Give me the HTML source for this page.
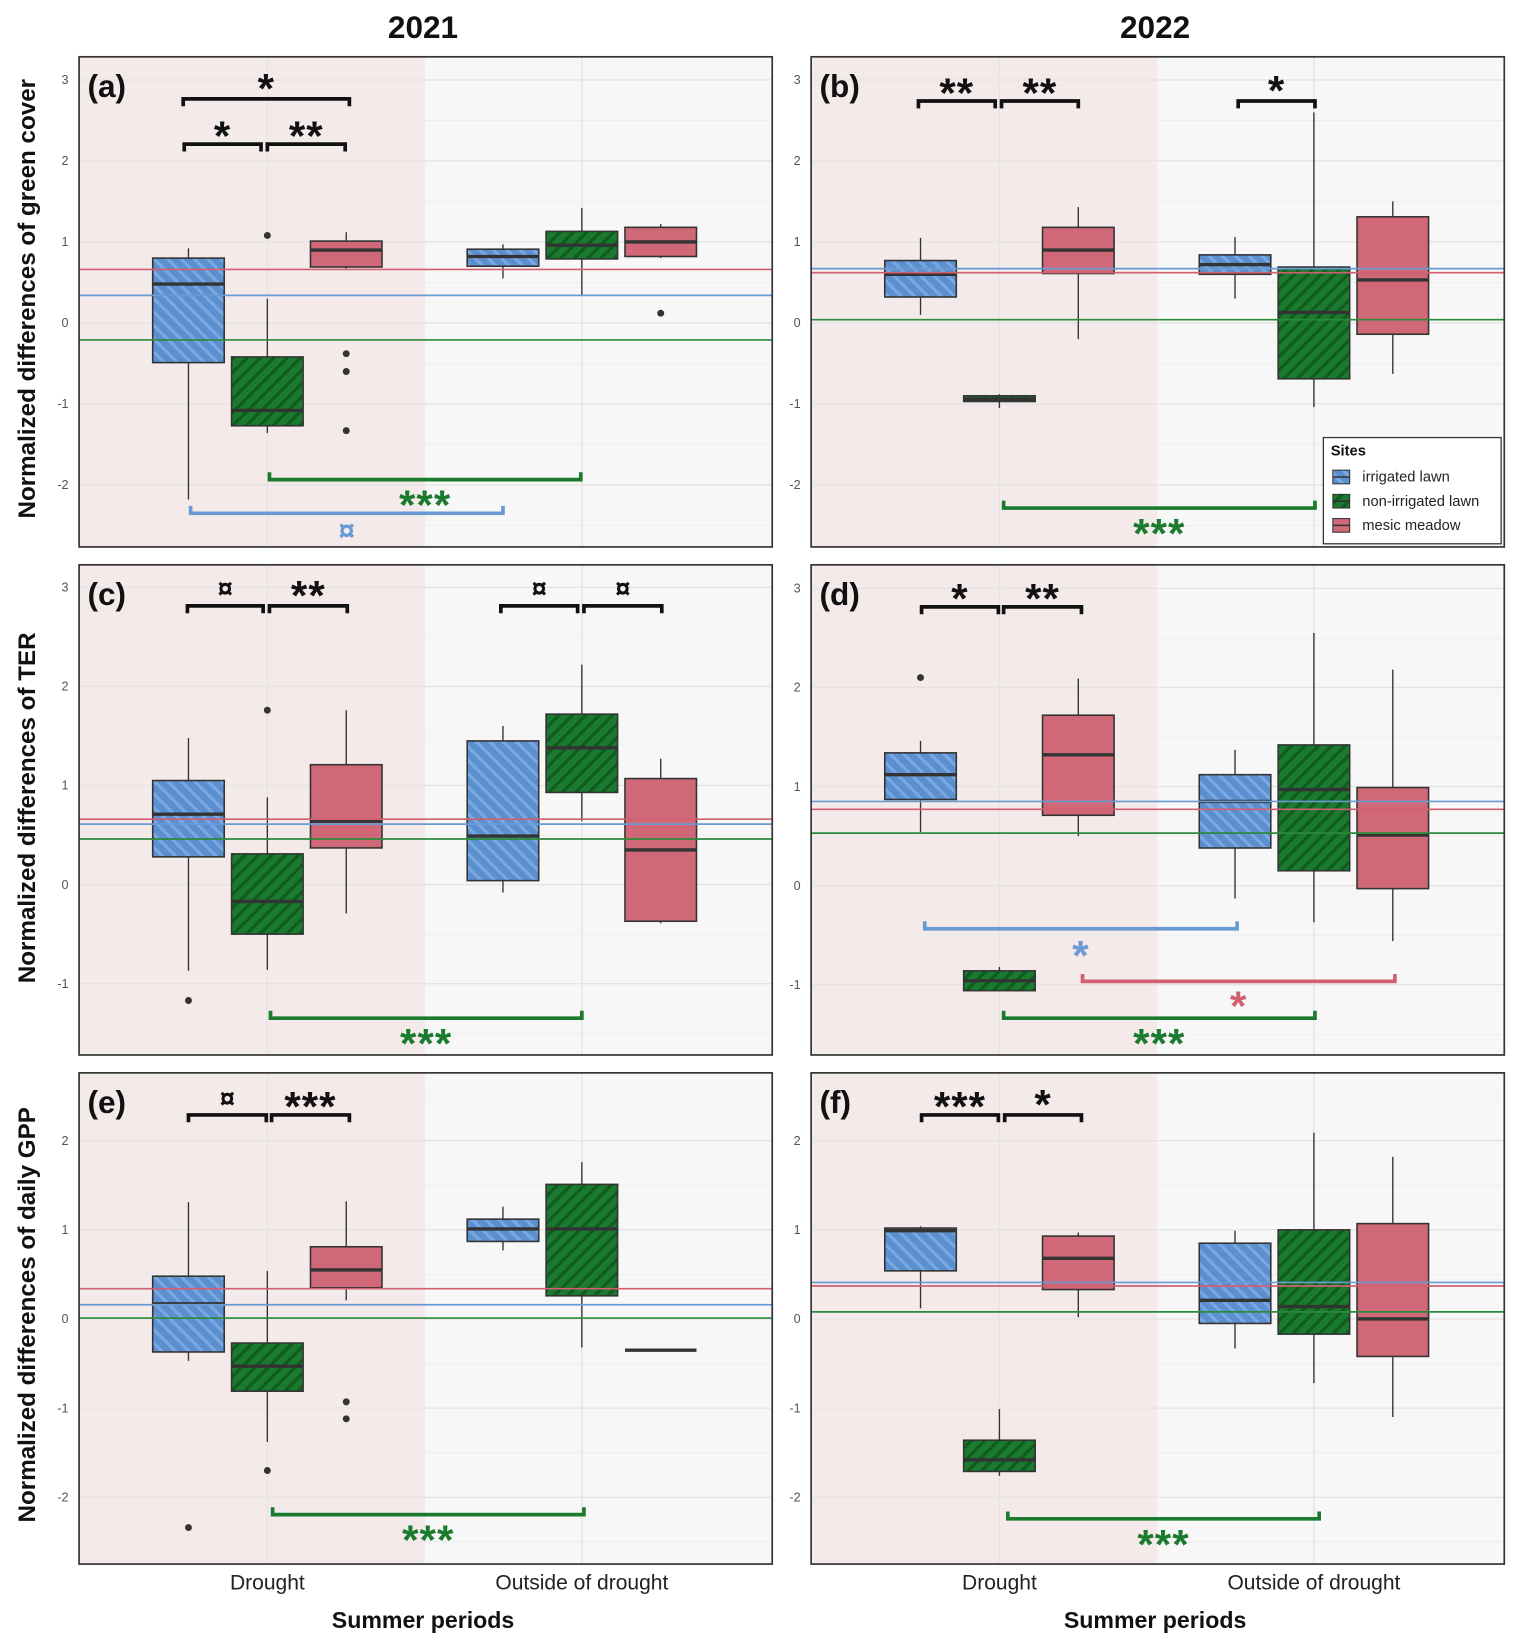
<!DOCTYPE html>
<html><head><meta charset="utf-8">
<style>
html,body{margin:0;padding:0;background:#fff;}
svg{display:block;}
text{font-family:"Liberation Sans",sans-serif;}
</style></head>
<body>
<svg id="fig" width="1515" height="1644" viewBox="0 0 1440 1563" xmlns="http://www.w3.org/2000/svg">
<defs>
<pattern id="hatchBlue" patternUnits="userSpaceOnUse" width="9" height="9" patternTransform="rotate(-45)">
<rect width="9" height="9" fill="#5b8fd0"/><rect width="3" height="9" fill="#7aa8e0"/></pattern>
<pattern id="hatchGreen" patternUnits="userSpaceOnUse" width="9" height="9" patternTransform="rotate(45)">
<rect width="9" height="9" fill="#1a7a2e"/><rect width="3" height="9" fill="#115a20"/></pattern>
</defs>
<g id="root"></g>
</svg>
<script>
// ---- data: box = [q1, median, q3, whiskerLow, whiskerHigh], order: irrigated D, non-irrigated D, mesic D, irrigated O, non-irrigated O, mesic O
const seriesNames = ["irrigated lawn","non-irrigated lawn","mesic meadow"];
const categories = ["Drought","Outside of drought"];
const boxesA = [[-0.49,0.48,0.80,-2.18,0.92],[-1.27,-1.08,-0.42,-1.36,0.30],[0.69,0.90,1.01,0.67,1.12],[0.70,0.82,0.91,0.55,0.97],[0.79,0.96,1.13,0.35,1.42],[0.82,1.00,1.18,0.80,1.22]];
const outliersA = [[1,1.08],[2,-0.38],[2,-0.60],[2,-1.33],[5,0.12]];
const meansA = [0.34,-0.21,0.66];
const boxesB = [[0.32,0.60,0.77,0.10,1.05],[-0.97,-0.94,-0.90,-1.05,-0.88],[0.61,0.90,1.18,-0.20,1.43],[0.60,0.72,0.84,0.30,1.06],[-0.69,0.13,0.69,-1.04,2.60],[-0.14,0.53,1.31,-0.63,1.50]];
const outliersB = [];
const meansB = [0.67,0.04,0.62];
const boxesC = [[0.28,0.71,1.05,-0.87,1.48],[-0.50,-0.17,0.31,-0.86,0.88],[0.37,0.64,1.21,-0.29,1.76],[0.04,0.49,1.45,-0.08,1.60],[0.93,1.38,1.72,0.64,2.22],[-0.37,0.35,1.07,-0.39,1.27]];
const outliersC = [[0,-1.17],[1,1.76]];
const meansC = [0.61,0.46,0.66];
const boxesD = [[0.87,1.12,1.34,0.54,1.46],[-1.06,-0.96,-0.86,-1.06,-0.82],[0.71,1.32,1.72,0.50,2.09],[0.38,0.85,1.12,-0.13,1.37],[0.15,0.97,1.42,-0.37,2.55],[-0.03,0.51,0.99,-0.56,2.18]];
const outliersD = [[0,2.10]];
const meansD = [0.85,0.53,0.77];
const boxesE = [[-0.37,0.17,0.48,-0.47,1.31],[-0.81,-0.53,-0.27,-1.38,0.54],[0.35,0.55,0.81,0.21,1.32],[0.87,1.01,1.12,0.77,1.26],[0.26,1.01,1.51,-0.32,1.76],[-0.35,-0.35,-0.35,-0.35,-0.35]];
const outliersE = [[0,-2.34],[1,-1.70],[2,-0.93],[2,-1.12]];
const meansE = [0.16,0.01,0.34];
const boxesF = [[0.54,0.99,1.02,0.12,1.04],[-1.71,-1.58,-1.36,-1.76,-1.01],[0.33,0.68,0.93,0.02,0.97],[-0.05,0.21,0.85,-0.33,0.99],[-0.17,0.14,1.00,-0.72,2.09],[-0.42,0.00,1.07,-1.10,1.82]];
const outliersF = [];
const meansF = [0.41,0.08,0.37];
const yTicksAB = [-2,-1,0,1,2,3];
const yTicksCD = [-1,0,1,2,3];
const yTicksEF = [-2,-1,0,1,2];

const NS="http://www.w3.org/2000/svg";
const root=document.getElementById('root');
function mk(tag,attrs,parent){const e=document.createElementNS(NS,tag);for(const k in attrs)e.setAttribute(k,attrs[k]);(parent||root).appendChild(e);return e;}
const fills=["url(#hatchBlue)","url(#hatchGreen)","#d06878"];
const lineCols=["#6a9ad4","#2a8a3a","#d06070"];

function panel(cfg){
  const {x0,x1,y0,y1,zeroY,unit,lo,hi,ticks,boxes,outs,means,label,name}=cfg;
  const g=mk('g',{});
  
  
  const Y=v=>zeroY-unit*v;
  const catX=[x0+179,x0+478];
  const off=[-75,0,75];
  mk('rect',{x:x0,y:y0,width:x1-x0,height:y1-y0,fill:'#f7f7f7'},g);
  mk('rect',{x:x0,y:y0,width:329,height:y1-y0,fill:'#f5eaea'},g);
  for(let v=lo;v<=hi+0.01;v+=0.5){const yy=Y(v);if(yy<y0||yy>y1)continue;
    mk('line',{x1:x0,x2:x1,y1:yy,y2:yy,stroke:Number.isInteger(v)?'#e4e4e4':'#ececec','stroke-width':Number.isInteger(v)?1.3:0.8},g);}
  catX.forEach(cx=>mk('line',{x1:cx,x2:cx,y1:y0,y2:y1,stroke:'#e4e4e4','stroke-width':1.3},g));
  ticks.forEach(t=>{const tx=mk('text',{x:x0-10,y:Y(t)+4,'text-anchor':'end','font-size':12,fill:'#555'},g);tx.textContent=t;
    });
  boxes.forEach((b,i)=>{
    const s=i%3,cx=catX[Math.floor(i/3)]+off[s],w=68;
    const bg=mk('g',{},g);
    
    
    mk('line',{x1:cx,x2:cx,y1:Y(b[4]),y2:Y(b[3]),stroke:'#333','stroke-width':1.3},bg);
    mk('rect',{x:cx-w/2,y:Y(b[2]),width:w,height:Math.max(0,Y(b[0])-Y(b[2])),fill:fills[s],stroke:'#333','stroke-width':1.5},bg);
    mk('line',{x1:cx-w/2,x2:cx+w/2,y1:Y(b[1]),y2:Y(b[1]),stroke:'#333','stroke-width':3.2},bg);
  });
  outs.forEach(o=>{const i=o[0],s=i%3,cx=catX[Math.floor(i/3)]+off[s];
    const c=mk('circle',{cx:cx,cy:Y(o[1]),r:3.3,fill:'#333'},g);
    });
  means.forEach((m,s)=>{const l=mk('line',{x1:x0,x2:x1,y1:Y(m),y2:Y(m),stroke:lineCols[s],'stroke-width':1.6},g);
    });
  mk('rect',{x:x0,y:y0,width:x1-x0,height:y1-y0,fill:'none',stroke:'#333','stroke-width':1.6},g);
  const lb=mk('text',{x:x0+8,y:y0+38,'font-size':30,'font-weight':'bold',fill:'#111'},g);lb.textContent=label;
  
  return g;
}
function br(xa,xb,y,txt,ty,col,up,fs){
  const g=mk('g',{});
  
  
  const d=up?-7:7;
  mk('path',{d:`M${xa} ${y+d} L${xa} ${y} L${xb} ${y} L${xb} ${y+d}`,fill:'none',stroke:col,'stroke-width':3.5},g);
  const star=!fs;
  const t=mk('text',{x:(xa+xb)/2,y:star?ty+10:ty,'text-anchor':'middle','font-size':fs||40,'font-weight':'bold',fill:col,'letter-spacing':star?'1':'0'},g);t.textContent=txt;
}
const L0=75,L1=734,R0=771,R1=1430;
panel({x0:L0,x1:L1,y0:54,y1:520,zeroY:307,unit:77,lo:-2.5,hi:3,ticks:yTicksAB,boxes:boxesA,outs:outliersA,means:meansA,label:'(a)',name:'panel-a'});
panel({x0:R0,x1:R1,y0:54,y1:520,zeroY:307,unit:77,lo:-2.5,hi:3,ticks:yTicksAB,boxes:boxesB,outs:outliersB,means:meansB,label:'(b)',name:'panel-b'});
panel({x0:L0,x1:L1,y0:537,y1:1003,zeroY:841,unit:94.2,lo:-1.5,hi:3,ticks:yTicksCD,boxes:boxesC,outs:outliersC,means:meansC,label:'(c)',name:'panel-c'});
panel({x0:R0,x1:R1,y0:537,y1:1003,zeroY:842,unit:94.2,lo:-1.5,hi:3,ticks:yTicksCD,boxes:boxesD,outs:outliersD,means:meansD,label:'(d)',name:'panel-d'});
panel({x0:L0,x1:L1,y0:1020,y1:1487,zeroY:1254,unit:84.75,lo:-2.5,hi:2.5,ticks:yTicksEF,boxes:boxesE,outs:outliersE,means:meansE,label:'(e)',name:'panel-e'});
panel({x0:R0,x1:R1,y0:1020,y1:1487,zeroY:1254,unit:84.75,lo:-2.5,hi:2.5,ticks:yTicksEF,boxes:boxesF,outs:outliersF,means:meansF,label:'(f)',name:'panel-f'});
const K='#111',G='#1a7a2e',B='#6a9ad4',P='#d06070';
// (a)
br(174,332,94,'*',88,K,false);br(175,248,137,'*',133,K,false);br(254,328,137,'**',133,K,false);
br(256,552,456,'***',484,G,true);br(181,478,488,'¤',514,B,true,28);
// (b)
br(873,946,96,'**',92,K,false);br(952,1025,96,'**',92,K,false);br(1177,1250,96,'*',90,K,false);
br(954,1250,483,'***',511,G,true);
// (c)
br(178,250,576,'¤',568,K,false,26);br(256,330,576,'**',570,K,false);br(476,549,576,'¤',568,K,false,26);br(555,629,576,'¤',568,K,false,26);
br(257,553,968,'***',996,G,true);
// (d)
br(876,949,577,'*',573,K,false);br(954,1028,577,'**',573,K,false);
br(879,1176,883,'*',912,B,true);br(1029,1326,933,'*',960,P,true);br(954,1250,968,'***',996,G,true);
// (e)
br(179,253,1060,'¤',1053,K,false,26);br(258,332,1060,'***',1056,K,false);br(259,555,1440,'***',1468,G,true);
// (f)
br(876,949,1060,'***',1056,K,false);br(955,1028,1060,'*',1054,K,false);br(958,1254,1444,'***',1472,G,true);

function txt(x,y,s,attrs,name){const t=mk('text',Object.assign({x:x,y:y},attrs));t.textContent=s;
  return t;}
txt(402,36,'2021',{'text-anchor':'middle','font-size':30,'font-weight':'bold',fill:'#111'},'column-title-2021');
txt(1098,36,'2022',{'text-anchor':'middle','font-size':30,'font-weight':'bold',fill:'#111'},'column-title-2022');
[[284,'Normalized differences of green cover','y-axis-title-green-cover'],[768,'Normalized differences of TER','y-axis-title-ter'],[1250,'Normalized differences of daily GPP','y-axis-title-gpp']].forEach(a=>{
  txt(0,0,a[1],{'text-anchor':'middle','font-size':23,'font-weight':'bold',fill:'#111',transform:`translate(33,${a[0]}) rotate(-90)`},a[2]);});
[[254,553,402],[950,1249,1098]].forEach((c,i)=>{
  txt(c[0],1511,categories[0],{'text-anchor':'middle','font-size':20,fill:'#222'},'x-tick-label');
  txt(c[1],1511,categories[1],{'text-anchor':'middle','font-size':20,fill:'#222'},'x-tick-label');
  txt(c[2],1548,'Summer periods',{'text-anchor':'middle','font-size':22,'font-weight':'bold',fill:'#111'},'x-axis-title');
});
// legend
const lg=mk('g',{});


mk('rect',{x:1258,y:416,width:169,height:101,fill:'#fff',stroke:'#333','stroke-width':1.2},lg);
const lt=mk('text',{x:1265,y:433,'font-size':14,'font-weight':'bold',fill:'#111'},lg);lt.textContent='Sites';
seriesNames.forEach((n,s)=>{
  const yy=447+s*23;
  const e=mk('g',{},lg);
  
  
  mk('rect',{x:1267,y:yy,width:16,height:13,fill:fills[s],stroke:'#333','stroke-width':1},e);
  mk('line',{x1:1267,x2:1283,y1:yy+6.5,y2:yy+6.5,stroke:'#333','stroke-width':1.5},e);
  const t=mk('text',{x:1295,y:yy+11,'font-size':14,fill:'#222'},e);t.textContent=n;
});
</script>
</body></html>
